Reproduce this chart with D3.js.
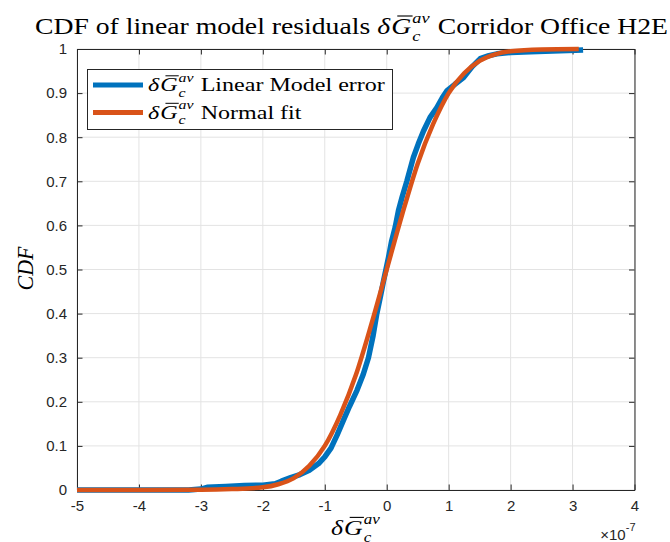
<!DOCTYPE html>
<html>
<head>
<meta charset="utf-8">
<script src="https://cdn.jsdelivr.net/npm/d3@7"></script>
<style>
  html, body { margin: 0; padding: 0; background: #fff; }
  svg { display: block; }
  text { white-space: pre; }
</style>
</head>
<body>
<div id="chart"></div>
<script>
// ---- data (x in units of 1e-7) ----
const empX = [-5.0, -3.2, -3.0, -2.9, -2.6, -2.3, -2.0, -1.8, -1.7, -1.55, -1.4, -1.25, -1.1, -1.0, -0.9, -0.8, -0.7, -0.6, -0.48, -0.38, -0.295, -0.22, -0.16, -0.1, -0.05, 0.03, 0.08, 0.137, 0.19, 0.25, 0.325, 0.43, 0.51, 0.594, 0.7, 0.81, 0.9, 0.97, 1.1, 1.24, 1.38, 1.51, 1.65, 1.78, 2.0, 2.32, 2.8, 3.17];
const empY = [0.0, 0.0, 0.002, 0.006, 0.008, 0.010, 0.011, 0.014, 0.020, 0.028, 0.035, 0.045, 0.060, 0.075, 0.095, 0.125, 0.158, 0.19, 0.226, 0.262, 0.30, 0.35, 0.40, 0.44, 0.475, 0.528, 0.565, 0.596, 0.634, 0.665, 0.70, 0.754, 0.785, 0.814, 0.845, 0.867, 0.89, 0.905, 0.92, 0.935, 0.96, 0.978, 0.985, 0.989, 0.992, 0.994, 0.996, 0.998];
const fitX = [-5.0, -3.0, -2.5, -2.0, -1.75, -1.5, -1.25, -1.0, -0.75, -0.5, -0.25, 0.0, 0.25, 0.5, 0.75, 1.0, 1.25, 1.5, 1.75, 2.0, 2.5, 3.1];
const fitY = [0.0, 0.0005, 0.002, 0.006, 0.013, 0.027, 0.055, 0.10, 0.17, 0.26, 0.375, 0.5, 0.625, 0.74, 0.83, 0.90, 0.945, 0.973, 0.988, 0.995, 0.999, 1.0];
const xTicks = [-5, -4, -3, -2, -1, 0, 1, 2, 3, 4];
const yTicks = [0, 0.1, 0.2, 0.3, 0.4, 0.5, 0.6, 0.7, 0.8, 0.9, 1];
const xTickLabels = ["-5", "-4", "-3", "-2", "-1", "0", "1", "2", "3", "4"];
const yTickLabels = ["0", "0.1", "0.2", "0.3", "0.4", "0.5", "0.6", "0.7", "0.8", "0.9", "1"];
const seriesNames = ["Linear Model error", "Normal fit"];
const seriesColors = ["#0072BD", "#D95319"];

// ---- layout ----
const W = 670, H = 542;
const L = 77, R = 634.5, T = 49, B = 490;
const axisColor = "#262626";
const serif = "'Liberation Serif', 'Times New Roman', serif";
const sans = "'Liberation Sans', Arial, Helvetica, sans-serif";

const svg = d3.select("#chart").append("svg").attr("width", W).attr("height", H);

const x = d3.scaleLinear().domain([-5, 4]).range([L, R]);
const y = d3.scaleLinear().domain([0, 1]).range([B, T]);

// grid
const grid = svg.append("g");
grid.selectAll("line.gx").data(xTicks).join("line")
  .attr("x1", d => x(d)).attr("x2", d => x(d)).attr("y1", T).attr("y2", B)
  .attr("stroke", "#e3e3e3").attr("stroke-width", 1);
grid.selectAll("line.gy").data(yTicks).join("line")
  .attr("y1", d => y(d)).attr("y2", d => y(d)).attr("x1", L).attr("x2", R)
  .attr("stroke", "#e3e3e3").attr("stroke-width", 1);

// axes with inward ticks on all sides
const tickLen = 5.5;
const xb = d3.axisBottom(x).tickValues(xTicks).tickSizeInner(-tickLen).tickSizeOuter(0).tickPadding(10).tickFormat((d, i) => xTickLabels[i]);
const xt = d3.axisTop(x).tickValues(xTicks).tickSizeInner(-tickLen).tickSizeOuter(0).tickFormat("");
const yl = d3.axisLeft(y).tickValues(yTicks).tickSizeInner(-tickLen).tickSizeOuter(0).tickPadding(10).tickFormat((d, i) => yTickLabels[i]);
const yr = d3.axisRight(y).tickValues(yTicks).tickSizeInner(-tickLen).tickSizeOuter(0).tickFormat("");

function styleAxis(g) {
  g.select(".domain").attr("stroke", axisColor).attr("stroke-width", 1);
  g.selectAll(".tick line").attr("stroke", axisColor).attr("stroke-width", 1);
  g.selectAll(".tick text").attr("fill", axisColor).style("font-family", sans).style("font-size", "15px");
}
svg.append("g").attr("transform", `translate(0,${B})`).call(xb).call(styleAxis);
svg.append("g").attr("transform", `translate(0,${T})`).call(xt).call(styleAxis);
svg.append("g").attr("transform", `translate(${L},0)`).call(yl).call(styleAxis);
svg.append("g").attr("transform", `translate(${R},0)`).call(yr).call(styleAxis);

// data lines
const empData = empX.map((v, i) => [v, empY[i]]);
const fitData = fitX.map((v, i) => [v, fitY[i]]);
svg.append("path").datum(empData).attr("d", d3.line().x(d => x(d[0])).y(d => y(d[1])))
  .attr("fill", "none").attr("stroke", seriesColors[0]).attr("stroke-width", 5.5).attr("stroke-linejoin", "round");
svg.append("path").datum(fitData).attr("d", d3.line().x(d => x(d[0])).y(d => y(d[1])).curve(d3.curveMonotoneX))
  .attr("fill", "none").attr("stroke", seriesColors[1]).attr("stroke-width", 4.5).attr("stroke-linejoin", "round");

// math-ish label renderer (LaTeX-like, serif)
function mathLabel(parent, items, fs) {
  const g = parent.append("g");
  let cx = 0;
  items.forEach(it => {
    if (it.sup !== undefined) {
      const s1 = g.append("text").attr("x", cx).attr("y", -0.5 * fs)
        .style("font-family", serif).style("font-style", "italic").style("font-size", (0.66 * fs) + "px").text(it.sup);
      const s2 = g.append("text").attr("x", cx).attr("y", 0.3 * fs)
        .style("font-family", serif).style("font-style", "italic").style("font-size", (0.66 * fs) + "px").text(it.sub);
      cx += Math.max(s1.node().getComputedTextLength(), s2.node().getComputedTextLength()) + 0.05 * fs;
    } else {
      const t = g.append("text").attr("x", cx).attr("y", 0)
        .style("font-family", serif).style("font-style", it.italic ? "italic" : "normal")
        .style("font-size", fs + "px").text(it.t);
      const w = t.node().getComputedTextLength();
      if (it.bar) {
        g.append("line").attr("x1", cx + 0.22 * fs).attr("x2", cx + w + 0.05 * fs)
          .attr("y1", -0.8 * fs).attr("y2", -0.8 * fs).attr("stroke", "#000").attr("stroke-width", Math.max(1, fs * 0.05));
      }
      cx += w + (it.italic ? 0.04 * fs : 0);
    }
  });
  g.selectAll("text").attr("fill", "#000");
  return { g, width: cx };
}
// horizontal stretch mimics the wider LaTeX (Computer Modern) font
function placeScaled(lab, x0, yBase, sx) {
  lab.g.attr("transform", `translate(${x0},${yBase}) scale(${sx},1)`);
}
const symItems = [{ t: "δ", italic: true }, { t: "G", italic: true, bar: true }, { sup: "av", sub: "c" }];

// title
const titleItems = [{ t: "CDF of linear model residuals " }].concat(symItems).concat([{ t: " Corridor Office H2E" }]);
const title = mathLabel(svg, titleItems, 22.5);
placeScaled(title, 35, 34, 633 / title.width);

// x label
const xl = mathLabel(svg, symItems, 22);
placeScaled(xl, 331, 535, 50 / xl.width);

// exponent
const ex = svg.append("text").attr("x", R + 1).attr("y", 540).attr("text-anchor", "end")
  .attr("fill", axisColor).style("font-family", sans);
ex.append("tspan").style("font-size", "15px").text("×10");
ex.append("tspan").attr("dy", -9).style("font-size", "11px").text("-7");

// y label
const yLab = svg.append("text").attr("text-anchor", "middle").style("font-family", serif).style("font-style", "italic")
  .style("font-size", "23px").attr("fill", "#000").text("CDF");
const yLen = yLab.node().getComputedTextLength();
yLab.attr("transform", `translate(33,${(T + B) / 2 - 1}) rotate(-90) scale(${44 / yLen},1)`);

// legend
const lg = svg.append("g");
lg.append("rect").attr("x", 87.5).attr("y", 69.5).attr("width", 305).attr("height", 60)
  .attr("fill", "#fff").attr("stroke", axisColor).attr("stroke-width", 1);
let legendSx = null;
seriesNames.forEach((name, i) => {
  const yy = 85 + i * 27.5;
  lg.append("line").attr("x1", 93).attr("x2", 143).attr("y1", yy).attr("y2", yy)
    .attr("stroke", seriesColors[i]).attr("stroke-width", 5);
  const lab = mathLabel(lg, symItems.concat([{ t: " " + name }]), 19);
  if (legendSx === null) legendSx = 237 / lab.width; // first entry spans 148 → 385
  placeScaled(lab, 148, yy + 6, legendSx);
});
</script>
</body>
</html>
